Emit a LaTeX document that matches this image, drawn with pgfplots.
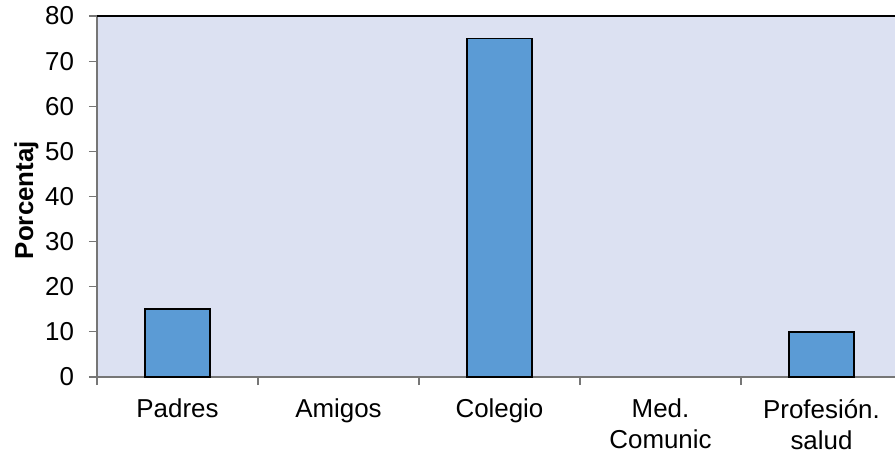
\documentclass[border=0pt]{standalone}
\usepackage{fontspec}
\setmainfont{Liberation Sans}
\usepackage{pgfplots}
\pgfplotsset{compat=1.18}
\definecolor{plotbg}{RGB}{220,225,242}
\definecolor{barblue}{RGB}{91,155,213}
\definecolor{axgray}{RGB}{118,118,118}
\begin{document}
\begin{tikzpicture}
\begin{axis}[
  at={(0,0)}, anchor=south west,
  scale only axis,
  width=402.5bp, height=180.5bp,
  xmin=-0.5, xmax=4.5,
  ymin=0, ymax=80,
  ytick={0,10,...,80},
  xtick={0,1,2,3,4},
  xticklabels={Padres,Amigos,Colegio,{Med.\\Comunic},{Profesión.\\salud}},
  minor xtick={-0.5,0.5,1.5,2.5,3.5},
  xtick pos=lower, ytick pos=left,
  tick align=outside,
  major x tick style={draw=none},
  major tick length=4bp, minor tick length=4bp,
  tick style={axgray, line width=0.6bp},
  axis line style={axgray, line width=0.6bp},
  axis background/.style={fill=plotbg},
  /pgf/number format/assume math mode=true,
  tick label style={font=\fontsize{13}{15.5}\selectfont},
  x tick label style={align=center, yshift=-3.5bp},
  y tick label style={xshift=-4bp},
  ylabel={Porcentaj},
  ylabel style={font=\fontsize{13}{15}\selectfont\bfseries, at={(axis description cs:-0.064,0.49)}, anchor=south},
  ybar, bar width=0.4,
  clip=false,
]
\addplot[fill=barblue, draw=black, line width=0.9bp] coordinates {(0,15) (2,75) (4,10)};
\draw[black, line width=1bp] (rel axis cs:0,1) -- (rel axis cs:1,1);
\end{axis}
\pgfresetboundingbox
\path (-48.5bp,-39.5bp) rectangle (399bp,188.5bp);
\end{tikzpicture}
\end{document}
